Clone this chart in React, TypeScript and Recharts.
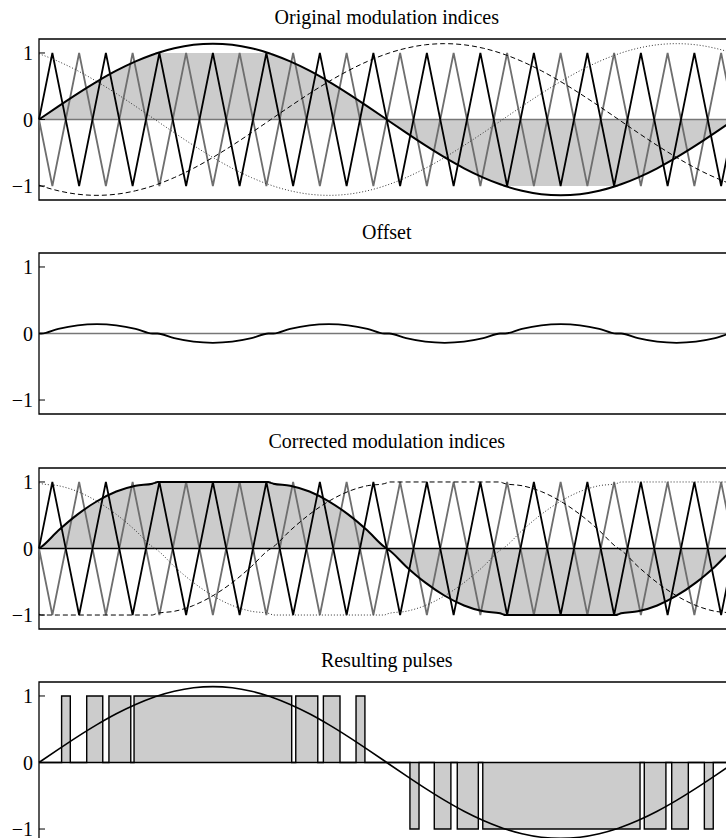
import { ComposedChart, Line, Area, XAxis, YAxis, ReferenceLine, ReferenceArea } from 'recharts';

// angle grid in degrees (extra points where the curves clip at +/-1)
const angles = [
  0, 1.3, 10, 20, 30, 40, 50, 58.7,
  60, 61.3, 70, 80, 90, 100, 110, 118.7,
  120, 121.3, 130, 140, 150, 160, 170, 178.7,
  180, 181.3, 190, 200, 210, 220, 230, 238.7,
  240, 241.3, 250, 260, 270, 280, 290, 298.7,
  300, 301.3, 310, 320, 330, 340, 350, 358.7,
  360,
];

// original modulation indices
const phaseA = [
  0, 0.026, 0.198, 0.39, 0.57, 0.733, 0.873, 0.974,
  0.987, 1.0, 1.071, 1.123, 1.14, 1.123, 1.071, 1.0,
  0.987, 0.974, 0.873, 0.733, 0.57, 0.39, 0.198, 0.026,
  0, -0.026, -0.198, -0.39, -0.57, -0.733, -0.873, -0.974,
  -0.987, -1.0, -1.071, -1.123, -1.14, -1.123, -1.071, -1.0,
  -0.987, -0.974, -0.873, -0.733, -0.57, -0.39, -0.198, -0.026,
  0,
];
const phaseB = [
  -0.987, -1.0, -1.071, -1.123, -1.14, -1.123, -1.071, -1.0,
  -0.987, -0.974, -0.873, -0.733, -0.57, -0.39, -0.198, -0.026,
  0, 0.026, 0.198, 0.39, 0.57, 0.733, 0.873, 0.974,
  0.987, 1.0, 1.071, 1.123, 1.14, 1.123, 1.071, 1.0,
  0.987, 0.974, 0.873, 0.733, 0.57, 0.39, 0.198, 0.026,
  0, -0.026, -0.198, -0.39, -0.57, -0.733, -0.873, -0.974,
  -0.987,
];
const phaseC = [
  0.987, 0.974, 0.873, 0.733, 0.57, 0.39, 0.198, 0.026,
  0, -0.026, -0.198, -0.39, -0.57, -0.733, -0.873, -0.974,
  -0.987, -1.0, -1.071, -1.123, -1.14, -1.123, -1.071, -1.0,
  -0.987, -0.974, -0.873, -0.733, -0.57, -0.39, -0.198, -0.026,
  0, 0.026, 0.198, 0.39, 0.57, 0.733, 0.873, 0.974,
  0.987, 1.0, 1.071, 1.123, 1.14, 1.123, 1.071, 1.0,
  0.987,
];
const clippedA = [
  0, 0.026, 0.198, 0.39, 0.57, 0.733, 0.873, 0.974,
  0.987, 1, 1, 1, 1, 1, 1, 1,
  0.987, 0.974, 0.873, 0.733, 0.57, 0.39, 0.198, 0.026,
  0, -0.026, -0.198, -0.39, -0.57, -0.733, -0.873, -0.974,
  -0.987, -1, -1, -1, -1, -1, -1, -1,
  -0.987, -0.974, -0.873, -0.733, -0.57, -0.39, -0.198, -0.026,
  0,
];

// offset
const offset = [
  0, 0, 0.071, 0.123, 0.14, 0.123, 0.071, 0,
  0, 0, -0.071, -0.123, -0.14, -0.123, -0.071, 0,
  0, 0, 0.071, 0.123, 0.14, 0.123, 0.071, 0,
  0, 0, -0.071, -0.123, -0.14, -0.123, -0.071, 0,
  0, 0, 0.071, 0.123, 0.14, 0.123, 0.071, 0,
  0, 0, -0.071, -0.123, -0.14, -0.123, -0.071, 0,
  0,
];

// corrected modulation indices
const corrA = [
  0, 0.026, 0.269, 0.513, 0.71, 0.856, 0.944, 0.974,
  0.987, 1, 1, 1, 1, 1, 1, 1,
  0.987, 0.974, 0.944, 0.856, 0.71, 0.513, 0.269, 0.026,
  0, -0.026, -0.269, -0.513, -0.71, -0.856, -0.944, -0.974,
  -0.987, -1, -1, -1, -1, -1, -1, -1,
  -0.987, -0.974, -0.944, -0.856, -0.71, -0.513, -0.269, -0.026,
  0,
];
const corrB = [
  -0.987, -1, -1, -1, -1, -1, -1, -1,
  -0.987, -0.974, -0.944, -0.856, -0.71, -0.513, -0.269, -0.026,
  0, 0.026, 0.269, 0.513, 0.71, 0.856, 0.944, 0.974,
  0.987, 1, 1, 1, 1, 1, 1, 1,
  0.987, 0.974, 0.944, 0.856, 0.71, 0.513, 0.269, 0.026,
  0, -0.026, -0.269, -0.513, -0.71, -0.856, -0.944, -0.974,
  -0.987,
];
const corrC = [
  0.987, 0.974, 0.944, 0.856, 0.71, 0.513, 0.269, 0.026,
  0, -0.026, -0.269, -0.513, -0.71, -0.856, -0.944, -0.974,
  -0.987, -1, -1, -1, -1, -1, -1, -1,
  -0.987, -0.974, -0.944, -0.856, -0.71, -0.513, -0.269, -0.026,
  0, 0.026, 0.269, 0.513, 0.71, 0.856, 0.944, 0.974,
  0.987, 1, 1, 1, 1, 1, 1, 1,
  0.987,
];

// triangular carriers (vertex angles)
const carrierAngles = [
  0, 6.92, 20.77, 34.62, 48.46, 62.31, 76.15, 90, 103.85, 117.69, 131.54, 145.38, 159.23, 173.08,
  186.92, 200.77, 214.62, 228.46, 242.31, 256.15, 270, 283.85, 297.69, 311.54, 325.38, 339.23, 353.08, 360,
];
const blackCarrier = [
  0, 1, -1, 1, -1, 1, -1, 1, -1, 1, -1, 1, -1, 1,
  -1, 1, -1, 1, -1, 1, -1, 1, -1, 1, -1, 1, -1, 0,
];
const grayCarrier = [
  0, -1, 1, -1, 1, -1, 1, -1, 1, -1, 1, -1, 1, -1,
  1, -1, 1, -1, 1, -1, 1, -1, 1, -1, 1, -1, 1, 0,
];

// resulting pulses
const pulseOn = [11.7, 24.7, 36.2, 49.2, 132.9, 147.2, 164.1, 192.0, 204.6, 216.5, 229.7, 313.3, 327.5, 344.4];
const pulseOff = [16.2, 33.0, 47.5, 130.8, 144.3, 155.8, 168.7, 196.7, 213.2, 227.4, 311.1, 324.5, 336.1, 349.0];
const pulseLevel = [1, 1, 1, 1, 1, 1, 1, -1, -1, -1, -1, -1, -1, -1];

const yTicks = [-1, 0, 1];

const rows = angles.map((t, i) => ({
  t,
  a: phaseA[i],
  b: phaseB[i],
  c: phaseC[i],
  clipA: clippedA[i],
  off: offset[i],
  a2: corrA[i],
  b2: corrB[i],
  c2: corrC[i],
}));
const blackRows = carrierAngles.map((t, i) => ({ t, v: blackCarrier[i] }));
const grayRows = carrierAngles.map((t, i) => ({ t, v: grayCarrier[i] }));
const pulseRows = [
  { t: 0, p: 0 },
  ...pulseOn.flatMap((t, i) => [
    { t, p: pulseLevel[i] },
    { t: pulseOff[i], p: 0 },
  ]),
  { t: 360, p: 0 },
];

const serif = '"Liberation Serif", "Times New Roman", serif';
const W = 740;
const PLOT_H = 161;
const GRAY_FILL = '#cccccc';
const CARRIER_GRAY = '#6e6e6e';

const axes = () => [
  <XAxis key="x" type="number" dataKey="t" domain={[0, 360]} hide />,
  <YAxis
    key="y"
    type="number"
    domain={[-1.21, 1.21]}
    ticks={yTicks}
    interval={0}
    width={39}
    axisLine={false}
    tickSize={-6}
    tickMargin={12}
    tickLine={{ stroke: '#000', strokeWidth: 1 }}
    tick={{ fill: '#000', fontSize: 20, fontFamily: serif }}
    tickFormatter={(v: number) => (v < 0 ? '\u22121' : String(v))}
  />,
  <ReferenceArea
    key="frame"
    x1={0}
    x2={360}
    y1={-1.21}
    y2={1.21}
    fill="none"
    stroke="#000"
    strokeWidth={1.3}
    ifOverflow="visible"
  />,
];

const carriers = () => [
  <Line key="gc" data={grayRows} dataKey="v" type="linear" stroke={CARRIER_GRAY} strokeWidth={1.8}
    dot={false} activeDot={false} isAnimationActive={false} />,
  <Line key="bc" data={blackRows} dataKey="v" type="linear" stroke="#000" strokeWidth={1.8}
    dot={false} activeDot={false} isAnimationActive={false} />,
];

// gap: distance from title baseline to the top of its frame
const Title = ({ top, text, gap = 15 }: { top: number; text: string; gap?: number }) => (
  <div
    style={{
      position: 'absolute',
      left: 39,
      width: 695.5,
      top: top - gap - 16.75,
      textAlign: 'center',
      fontFamily: serif,
      fontSize: 20,
      lineHeight: 1,
      color: '#000',
    }}
  >
    {text}
  </div>
);

const chartBox = (top: number): React.CSSProperties => ({ position: 'absolute', left: 0, top: top - 2 });
const margin = { top: 2, right: 5.5, bottom: 2, left: 0 };

const TOPS = [39, 253.3, 467.6, 682];

export default function App() {
  return (
    <div
      style={{
        position: 'absolute',
        left: 0,
        top: 0,
        width: 726,
        height: 838,
        overflow: 'hidden',
        background: '#fff',
      }}
    >
      <Title top={TOPS[0]} text="Original modulation indices" />
      <div style={chartBox(TOPS[0])}>
        <ComposedChart width={W} height={PLOT_H + 4} data={rows} margin={margin}>
          {axes()}
          <Area dataKey="clipA" type="monotone" baseValue={0} fill={GRAY_FILL} fillOpacity={1}
            stroke="none" isAnimationActive={false} activeDot={false} />
          <ReferenceLine y={0} stroke="#777" strokeWidth={1.6} />
          {carriers()}
          <Line dataKey="b" type="monotone" stroke="#000" strokeWidth={1} strokeDasharray="5 3"
            dot={false} activeDot={false} isAnimationActive={false} />
          <Line dataKey="c" type="monotone" stroke="#333" strokeWidth={1} strokeDasharray="1 2"
            dot={false} activeDot={false} isAnimationActive={false} />
          <Line dataKey="a" type="monotone" stroke="#000" strokeWidth={2}
            dot={false} activeDot={false} isAnimationActive={false} />
        </ComposedChart>
      </div>

      <Title top={TOPS[1]} text="Offset" />
      <div style={chartBox(TOPS[1])}>
        <ComposedChart width={W} height={PLOT_H + 4} data={rows} margin={margin}>
          {axes()}
          <ReferenceLine y={0} stroke="#777" strokeWidth={1.6} />
          <Line dataKey="off" type="monotone" stroke="#000" strokeWidth={1.8}
            dot={false} activeDot={false} isAnimationActive={false} />
        </ComposedChart>
      </div>

      <Title top={TOPS[2]} text="Corrected modulation indices" gap={20} />
      <div style={chartBox(TOPS[2])}>
        <ComposedChart width={W} height={PLOT_H + 4} data={rows} margin={margin}>
          {axes()}
          <Area dataKey="a2" type="monotone" baseValue={0} fill={GRAY_FILL} fillOpacity={1}
            stroke="none" isAnimationActive={false} activeDot={false} />
          <ReferenceLine y={0} stroke="#000" strokeWidth={1.6} />
          {carriers()}
          <Line dataKey="b2" type="monotone" stroke="#000" strokeWidth={1} strokeDasharray="5 3"
            dot={false} activeDot={false} isAnimationActive={false} />
          <Line dataKey="c2" type="monotone" stroke="#333" strokeWidth={1} strokeDasharray="1 2"
            dot={false} activeDot={false} isAnimationActive={false} />
          <Line dataKey="a2" type="monotone" stroke="#000" strokeWidth={2}
            dot={false} activeDot={false} isAnimationActive={false} />
        </ComposedChart>
      </div>

      <Title top={TOPS[3]} text="Resulting pulses" />
      <div style={chartBox(TOPS[3])}>
        <ComposedChart width={W} height={PLOT_H + 4} data={pulseRows} margin={margin}>
          {axes()}
          <Area dataKey="p" type="stepAfter" baseValue={0} fill={GRAY_FILL} fillOpacity={1}
            stroke="#000" strokeWidth={1.4} isAnimationActive={false} activeDot={false} />
          <ReferenceLine y={0} stroke="#000" strokeWidth={1.6} />
          <Line data={rows} dataKey="a" type="monotone" stroke="#000" strokeWidth={1.6}
            dot={false} activeDot={false} isAnimationActive={false} />
        </ComposedChart>
      </div>
    </div>
  );
}
